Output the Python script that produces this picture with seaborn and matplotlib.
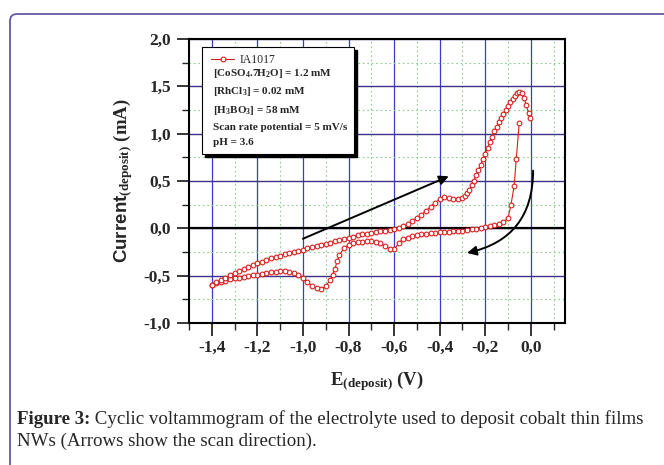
import numpy as np
import pandas as pd
import matplotlib
matplotlib.use("Agg")
import matplotlib.pyplot as plt
import seaborn as sns
from matplotlib.patches import Rectangle, FancyBboxPatch
from matplotlib.transforms import IdentityTransform
from matplotlib.ticker import FixedLocator, MultipleLocator, FuncFormatter

# ------------------------------
# Data
# ------------------------------

# cathodic sweep (0 V -> -1.4 V)
e_cath = [-0.051, -0.064, -0.073, -0.087, -0.10, -0.12, -0.14, -0.16, -0.18,
          -0.20, -0.22, -0.24, -0.26, -0.28, -0.30, -0.32, -0.34, -0.36, -0.38,
          -0.40, -0.42, -0.44, -0.46, -0.48, -0.50, -0.52, -0.54, -0.56, -0.58,
          -0.60, -0.62, -0.64, -0.66, -0.68, -0.70, -0.72, -0.74, -0.76, -0.78,
          -0.80, -0.82, -0.84, -0.85, -0.86, -0.87, -0.88, -0.90, -0.92, -0.94,
          -0.96, -0.98, -1.00, -1.02, -1.04, -1.06, -1.08, -1.10, -1.12, -1.14,
          -1.16, -1.18, -1.20, -1.22, -1.24, -1.26, -1.28, -1.30, -1.32, -1.34,
          -1.36, -1.38, -1.40]
i_cath = [1.11, 0.73, 0.45, 0.25, 0.11, 0.065, 0.045, 0.032, 0.02,
          0.01, 0.002, -0.005, -0.011, -0.017, -0.023, -0.028, -0.032, -0.036, -0.04,
          -0.043, -0.047, -0.052, -0.057, -0.062, -0.07, -0.082, -0.098, -0.11, -0.16,
          -0.222, -0.215, -0.185, -0.16, -0.145, -0.138, -0.138, -0.142, -0.148, -0.158,
          -0.175, -0.21, -0.28, -0.35, -0.43, -0.49, -0.545, -0.61, -0.64, -0.635,
          -0.61, -0.57, -0.525, -0.495, -0.475, -0.46, -0.455, -0.455, -0.46, -0.465,
          -0.47, -0.48, -0.49, -0.497, -0.505, -0.512, -0.52, -0.528, -0.54, -0.553,
          -0.567, -0.58, -0.595]

# anodic sweep (-1.4 V -> 0 V)
e_anod = [-1.40, -1.38, -1.36, -1.34, -1.32, -1.30, -1.28, -1.26, -1.24, -1.22,
          -1.20, -1.18, -1.16, -1.14, -1.12, -1.10, -1.08, -1.06, -1.04, -1.02,
          -1.00, -0.98, -0.96, -0.94, -0.92, -0.90, -0.88, -0.86, -0.84, -0.82,
          -0.80, -0.78, -0.76, -0.74, -0.72, -0.70, -0.68, -0.66, -0.64, -0.62,
          -0.60, -0.58, -0.56, -0.54, -0.52, -0.50, -0.48, -0.46, -0.44, -0.42,
          -0.40, -0.38, -0.36, -0.34, -0.32, -0.30, -0.29, -0.28, -0.27, -0.26,
          -0.25, -0.24, -0.23, -0.22, -0.21, -0.20, -0.19, -0.18, -0.17, -0.16,
          -0.15, -0.14, -0.13, -0.12, -0.11, -0.10, -0.09, -0.08, -0.07, -0.06,
          -0.05, -0.04, -0.03, -0.02, -0.01, -0.005]
i_anod = [-0.595, -0.57, -0.545, -0.52, -0.497, -0.475, -0.453, -0.432, -0.41, -0.39,
          -0.37, -0.352, -0.335, -0.318, -0.302, -0.287, -0.274, -0.262, -0.25, -0.238,
          -0.226, -0.213, -0.2, -0.188, -0.176, -0.164, -0.151, -0.138, -0.126, -0.114,
          -0.10, -0.088, -0.074, -0.063, -0.055, -0.047, -0.04, -0.033, -0.026, -0.019,
          -0.012, 0.0, 0.02, 0.045, 0.078, 0.11, 0.145, 0.185, 0.228, 0.27,
          0.308, 0.328, 0.325, 0.312, 0.305, 0.32, 0.345, 0.375, 0.41, 0.455,
          0.505, 0.56, 0.615, 0.67, 0.73, 0.79, 0.85, 0.91, 0.97, 1.025,
          1.075, 1.12, 1.165, 1.21, 1.25, 1.29, 1.33, 1.37, 1.40, 1.425,
          1.44, 1.425, 1.38, 1.30, 1.22, 1.17]

x_ticks = [-1.4, -1.2, -1.0, -0.8, -0.6, -0.4, -0.2, 0.0]
y_ticks = [-1.0, -0.5, 0.0, 0.5, 1.0, 1.5, 2.0]

sample_name = "IA1017"
conditions = [
    r"[CoSO$_{4}$.7H$_{2}$O] = 1.2 mM",
    r"[RhCl$_{3}$] = 0.02 mM",
    r"[H$_{3}$BO$_{3}$] = 58 mM",
    "Scan rate potential = 5 mV/s",
    "pH = 3.6",
]
caption_bold = "Figure 3:"
caption_1 = " Cyclic voltammogram of the electrolyte used to deposit cobalt thin films"
caption_2 = "NWs (Arrows show the scan direction)."

df = pd.concat([pd.DataFrame({"E": e_cath, "I": i_cath}),
                pd.DataFrame({"E": e_anod, "I": i_anod})], ignore_index=True)

# ------------------------------
# Style
# ------------------------------
sns.set_theme(style="white")
plt.rcParams['font.family'] = ['Liberation Serif', 'DejaVu Serif']
plt.rcParams['font.weight'] = 'bold'
plt.rcParams['axes.labelweight'] = 'bold'
plt.rcParams['mathtext.fontset'] = 'custom'
plt.rcParams['mathtext.rm'] = 'Liberation Serif:bold'
plt.rcParams['mathtext.bf'] = 'Liberation Serif:bold'
plt.rcParams['mathtext.sf'] = 'Liberation Sans:bold'
plt.rcParams['mathtext.default'] = 'rm'

fig = plt.figure(figsize=(6.64, 4.65), dpi=100)
ax = fig.add_axes([189 / 664, 1 - 323 / 465, 376 / 664, 284 / 465])

red = '#d61f1f'
sns.lineplot(data=df, x='E', y='I', sort=False, estimator=None, ax=ax,
             color=red, lw=0.8, marker='o', markersize=3.4,
             markerfacecolor='white', markeredgecolor=red, markeredgewidth=0.8,
             label=sample_name, zorder=3)

ax.set_xlim(-1.5, 0.15)
ax.set_ylim(-1.0, 2.0)
ax.xaxis.set_major_locator(FixedLocator(x_ticks))
ax.yaxis.set_major_locator(FixedLocator(y_ticks))
ax.xaxis.set_minor_locator(MultipleLocator(0.1))
ax.yaxis.set_minor_locator(MultipleLocator(0.25))
fmt = FuncFormatter(lambda v, p: "0,0" if abs(v) < 1e-9 else f"{v:.1f}".replace('.', ','))
ax.xaxis.set_major_formatter(fmt)
ax.yaxis.set_major_formatter(fmt)

ax.tick_params(which='major', direction='out', length=9, width=1.3, labelsize=12.5, pad=4)
ax.tick_params(axis='x', which='major', pad=3)
ax.tick_params(which='minor', direction='out', length=5, width=1.0)
ax.tick_params(bottom=True, left=True, top=False, right=False, which='both')

for s in ax.spines.values():
    s.set_linewidth(1.5)
    s.set_color('black')

ax.set_axisbelow(True)
ax.grid(which='major', axis='x', color='#3a3ad0', lw=0.9)
ax.grid(which='major', axis='y', color='#3b3188', lw=1.0)
ax.grid(which='minor', color='#8ccf8c', lw=0.8, ls=(0, (1.5, 2.5)))
ax.axhline(0, color='black', lw=1.6, zorder=1.5)

ax.set_xlabel(r"E$_{\mathrm{(deposit)}}$ (V)", fontsize=13.5, fontweight='bold', labelpad=10)
ax.set_ylabel(r"$\mathsf{Current}_{\mathrm{(deposit)}}$ (mA)", fontsize=13.5,
              fontweight='bold', labelpad=6)

# scan direction arrows
ax.annotate('', xy=(-0.36, 0.55), xytext=(-1.0, -0.11),
            arrowprops=dict(arrowstyle='-|>', color='black', lw=1.4,
                            mutation_scale=14, shrinkA=0, shrinkB=0), zorder=4)
ax.annotate('', xy=(-0.28, -0.26), xytext=(0.01, 0.61),
            arrowprops=dict(arrowstyle='-|>', color='black', lw=1.4,
                            mutation_scale=14, shrinkA=0, shrinkB=0,
                            connectionstyle='arc3,rad=-0.4'), zorder=4)

# legend box with shadow
bx, by, bw, bh = 0.0346, 0.595, 0.404, 0.378
ax.add_patch(Rectangle((bx + 0.009, by - 0.012), bw, bh, transform=ax.transAxes,
                       fc='black', ec='black', zorder=5))
ax.add_patch(Rectangle((bx, by), bw, bh, transform=ax.transAxes,
                       fc='white', ec='black', lw=0.8, zorder=6))
leg = ax.legend(loc='center left', bbox_to_anchor=(0.058, 0.926), frameon=False,
                prop={'size': 8.5, 'weight': 'normal'}, handlelength=2.0,
                handletextpad=0.4, borderpad=0, borderaxespad=0)
leg.set_zorder(7)
for txt, yy in zip(conditions, [0.8785, 0.815, 0.75, 0.687, 0.637]):
    ax.text(0.064, yy, txt, transform=ax.transAxes, fontsize=8,
            va='center', ha='left', zorder=7)

# page frame and caption
fig.add_artist(FancyBboxPatch((10, -20), 720, 471, boxstyle='round,pad=0,rounding_size=7',
                              transform=IdentityTransform(), fill=False,
                              ec='#6459a8', lw=1.3))
t1 = fig.text(17, 465 - 424, caption_bold, transform=IdentityTransform(),
              fontsize=13.6, fontweight='bold', va='baseline')
ax.annotate(caption_1, xy=(1, 0), xycoords=t1, va='bottom', ha='left',
            fontsize=13.6, fontweight='normal', annotation_clip=False)
fig.text(17, 465 - 446, caption_2, transform=IdentityTransform(),
         fontsize=13.6, fontweight='normal', va='baseline')

fig.savefig("out.png", dpi=100)
